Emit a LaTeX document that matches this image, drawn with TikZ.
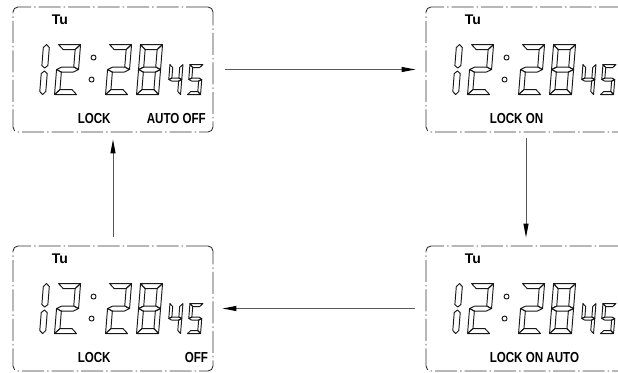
\documentclass[tikz,border=0pt]{standalone}
\usepackage{fontspec}
\usetikzlibrary{arrows.meta}
\newfontfamily\lcdfont[FakeStretch=0.8]{Liberation Sans}
\newfontfamily\tufont{Liberation Sans}
\tikzset{
  seg/.style={draw=black!90, line width=0.95pt, line join=round},
  lcdbox/.style={draw=black!80, line width=0.9pt, rounded corners=5pt,
    dash pattern=on 22pt off 3pt on 1.5pt off 3pt, minimum width=200pt,
    minimum height=125pt, inner sep=0pt},
  lbl/.style={font=\lcdfont\bfseries\fontsize{14.5}{14.5}\selectfont, inner sep=0pt, anchor=base west},
  tulbl/.style={font=\tufont\bfseries\fontsize{14}{14}\selectfont, inner sep=0pt, anchor=base west},
  arr/.style={draw=black!65, line width=1pt, -{Triangle[length=14pt,width=5pt,color=black]}}
}
\newcommand\lcdsega{\draw[seg] (0,\H) -- (\W,\H) -- (\W-\T,\H-\T) -- (\T,\H-\T) -- cycle;}
\newcommand\lcdsegb{\draw[seg] (\W,\H) -- (\W,\M) -- (\W-\T,\M+\T/2) -- (\W-\T,\H-\T) -- cycle;}
\newcommand\lcdsegf{\draw[seg] (0,\H) -- (\T,\H-\T) -- (\T,\M+\T/2) -- (0,\M) -- cycle;}
\newcommand\lcdsegg{\draw[seg] (0,\M) -- (\T,\M+\T/2) -- (\W-\T,\M+\T/2) -- (\W,\M) -- (\W-\T,\M-\T/2) -- (\T,\M-\T/2) -- cycle;}
\newcommand\lcdsege{\draw[seg] (0,\M) -- (\T,\M-\T/2) -- (\T,\T) -- (0,0) -- cycle;}
\newcommand\lcdsegc{\draw[seg] (\W,\M) -- (\W,0) -- (\W-\T,\T) -- (\W-\T,\M-\T/2) -- cycle;}
\newcommand\lcdsegd{\draw[seg] (0,0) -- (\W,0) -- (\W-\T,\T) -- (\T,\T) -- cycle;}
\newcommand\lcddigit[6]{%
  \begin{scope}[shift={(#1,#2)}, x=1pt, y=1pt, xslant=0.08]
    \def\W{#3}\def\H{#4}\def\T{#5}\def\M{#4/2}
    \foreach \s in {#6}{\csname lcdseg\s\endcsname}
  \end{scope}}
\newcommand\lcdone[2]{%
  \begin{scope}[shift={(#1,#2)}, x=1pt, y=1pt, xslant=0.08]
    \draw[seg] (3,26.5) -- (6,29) -- (6,47) -- (3,50) -- (0,47) -- (0,29) -- cycle;
    \draw[seg] (3,0) -- (6,3) -- (6,21) -- (3,23.5) -- (0,21) -- (0,3) -- cycle;
  \end{scope}}
\newcommand\lcdpanel[1]{%
  \begin{scope}[shift={(#1.north west)}]
    \node[tulbl] (#1-tu) at (39,18) {Tu};
    \lcdone{27}{88}
    \lcddigit{42}{88}{22}{50}{5}{a,b,g,e,d}
    \draw[seg] (81,51) circle[radius=2.5];
    \draw[seg] (79,73) circle[radius=2.5];
    \lcddigit{93}{88}{22}{50}{5}{a,b,g,e,d}
    \lcddigit{124}{88}{22}{50}{5}{a,b,c,d,e,f,g}
    \lcddigit{155}{88}{13}{30}{3}{f,g,b,c}
    \lcddigit{175}{88}{13}{30}{3}{a,f,g,c,d}
  \end{scope}}
\begin{document}
\begin{tikzpicture}[x=1pt, y=-1pt]
  \useasboundingbox (0,0) rectangle (618,372);
  \clip (0,0) rectangle (618,372);
  \node[lcdbox] (tl) at (113,69.5) {};
  \node[lcdbox] (tr) at (526,69.5) {};
  \node[lcdbox] (bl) at (113,308.5) {};
  \node[lcdbox] (br) at (526,308.5) {};
  \lcdpanel{tl}
  \lcdpanel{tr}
  \lcdpanel{bl}
  \lcdpanel{br}
  \begin{scope}[shift={(tl.north west)}]
    \node[lbl] (tl-lock) at (65,117) {LOCK};
    \node[lbl] (tl-auto) at (134,117) {AUTO OFF};
  \end{scope}
  \begin{scope}[shift={(tr.north west)}]
    \node[lbl] (tr-lock) at (64,117) {LOCK ON};
  \end{scope}
  \begin{scope}[shift={(bl.north west)}]
    \node[lbl] (bl-lock) at (65,117) {LOCK};
    \node[lbl] (bl-off) at (172,117) {OFF};
  \end{scope}
  \begin{scope}[shift={(br.north west)}]
    \node[lbl] (br-lock) at (64,117) {LOCK ON AUTO};
  \end{scope}
  \draw[arr] ([xshift=12pt]tl.east) -- ([xshift=-10pt]tr.west);
  \draw[arr] ([yshift=-6pt]tr.south) -- ([yshift=8pt]br.north);
  \draw[arr] ([xshift=-11pt]br.west) -- ([xshift=9pt]bl.east);
  \draw[arr] ([yshift=9pt]bl.north) -- ([yshift=-7pt]tl.south);
\end{tikzpicture}
\end{document}
